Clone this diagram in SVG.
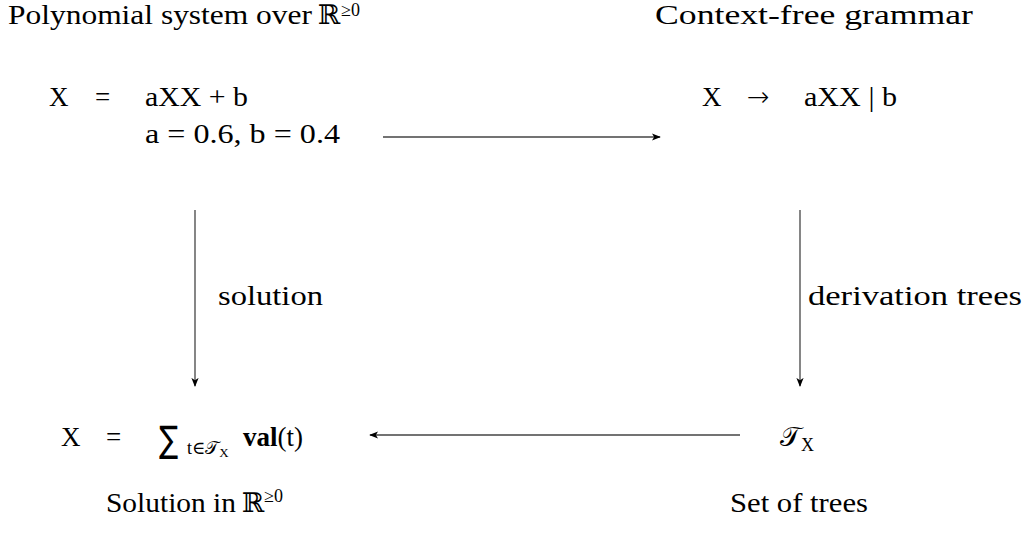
<svg xmlns="http://www.w3.org/2000/svg" width="1026" height="534" viewBox="0 0 1026 534">
<style>
text{font-family:"Liberation Serif","DejaVu Serif",serif;font-size:27px;fill:#000}
.m{font-family:"Liberation Serif","DejaVu Serif",serif;font-size:27px}
.sym{font-family:"DejaVu Sans",sans-serif}
.sup{font-size:18px}
.sub{font-size:18px}
.c{stroke:#444;stroke-width:1.3;fill:none}
</style>
<defs>
<marker id="ah" viewBox="0 0 10 10" refX="9" refY="5" markerWidth="9" markerHeight="9" orient="auto" markerUnits="userSpaceOnUse">
<path d="M0,1 L10,5 L0,9 L2.5,5 Z" fill="#000"/>
</marker>
</defs>
<g id="title-left"><text x="8" y="24"><tspan textLength="304" lengthAdjust="spacingAndGlyphs">Polynomial system over</tspan><tspan x="318">ℝ</tspan><tspan class="sup" x="341" y="16">≥0</tspan></text></g>
<g id="title-right"><text x="655" y="24" textLength="318" lengthAdjust="spacingAndGlyphs">Context-free grammar</text></g>
<g id="node-poly">
<text class="m" x="49" y="106">X</text>
<text class="m" x="95" y="106">=</text>
<text class="m" x="145" y="106" textLength="103" lengthAdjust="spacingAndGlyphs">aXX + b</text>
<text class="m" x="145" y="143" textLength="195" lengthAdjust="spacingAndGlyphs">a = 0.6, b = 0.4</text>
</g>
<g id="node-grammar">
<text class="m" x="702" y="106">X</text>
<text class="sym" x="747" y="106" font-size="34" font-weight="200">→</text>
<text class="m" x="804" y="106" textLength="93" lengthAdjust="spacingAndGlyphs">aXX | b</text>
</g>
<g id="node-solution">
<text class="m" x="61" y="446">X</text>
<text class="m" x="106" y="446">=</text>
<text class="sym" transform="translate(159,452) scale(1.05,1.35)" font-size="28">∑</text>
<text class="sub" x="187" y="454">t∈𝒯<tspan font-size="13" dy="3">X</tspan></text>
<text class="m" x="243" y="446"><tspan font-weight="bold">val</tspan>(t)</text>
</g>
<g id="node-trees">
<text class="m" x="780" y="446">𝒯<tspan class="sub" dy="5">X</tspan></text>
</g>
<g id="connectors">
<line class="c" x1="383" y1="137" x2="660" y2="137" marker-end="url(#ah)"/>
<line class="c" x1="195" y1="210" x2="195" y2="386" marker-end="url(#ah)"/>
<line class="c" x1="800" y1="210" x2="800" y2="386" marker-end="url(#ah)"/>
<line class="c" x1="740" y1="435" x2="370" y2="435" marker-end="url(#ah)"/>
<text x="218" y="305" textLength="105" lengthAdjust="spacingAndGlyphs">solution</text>
<text x="808" y="305" textLength="214" lengthAdjust="spacingAndGlyphs">derivation trees</text>
</g>
<g id="caption-left"><text x="106" y="512"><tspan textLength="130" lengthAdjust="spacingAndGlyphs">Solution in</tspan><tspan x="242">ℝ</tspan><tspan class="sup" x="264" y="502">≥0</tspan></text></g>
<g id="caption-right"><text x="730" y="512" textLength="138" lengthAdjust="spacingAndGlyphs">Set of trees</text></g>
</svg>
